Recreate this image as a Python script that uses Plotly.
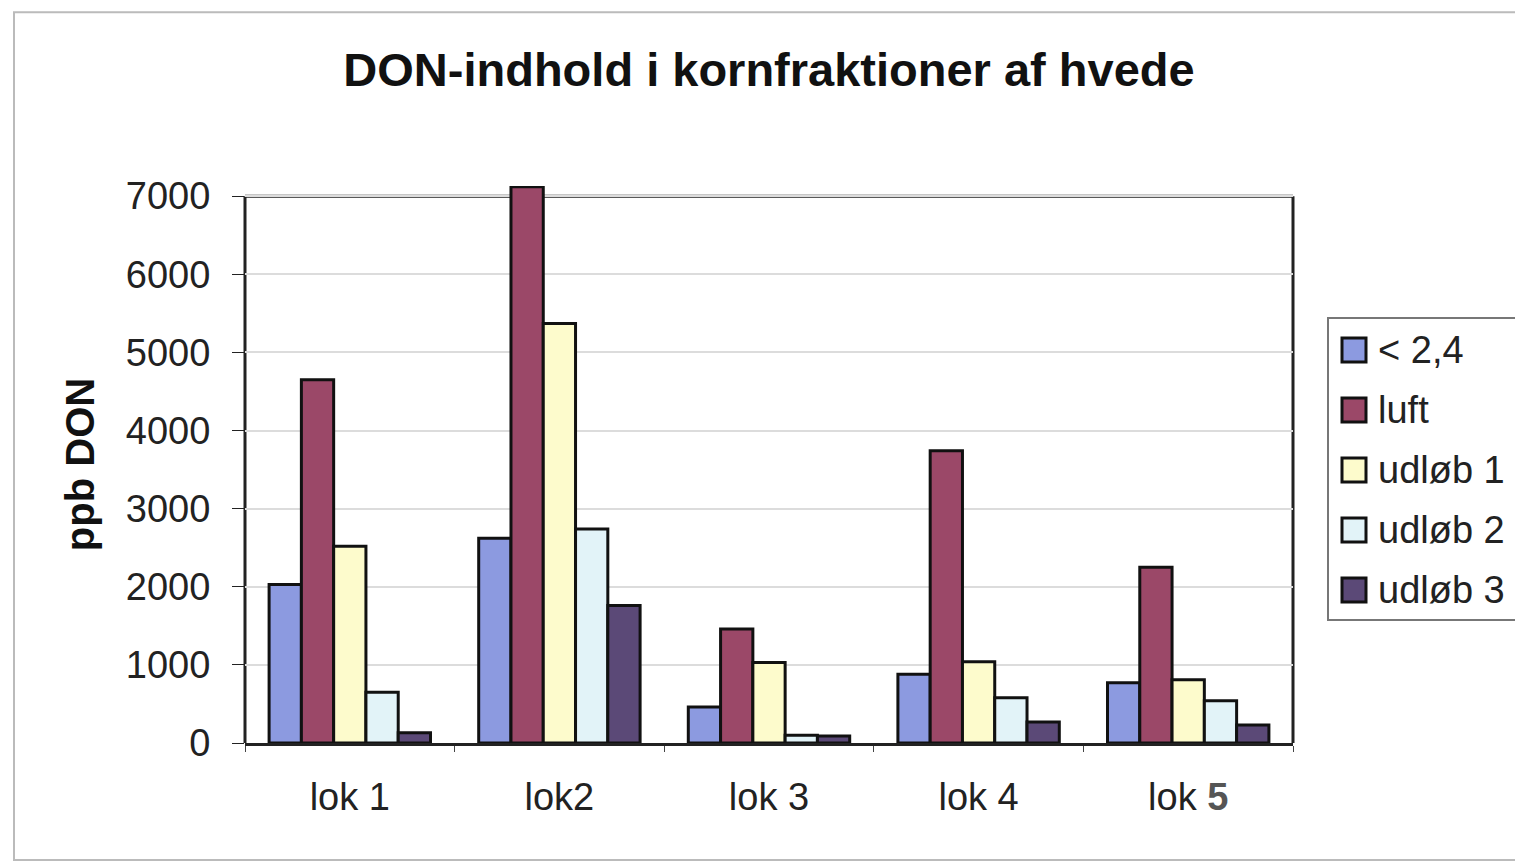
import plotly.graph_objects as go

categories = ["lok 1", "lok2", "lok 3", "lok 4", "lok 5"]
tick_labels = ["lok 1", "lok2", "lok 3", "lok 4", "lok <span style='color:#555'><b>5</b></span>"]

series_names = ["< 2,4", "luft", "udløb 1", "udløb 2", "udløb 3"]
under_24 = [2030, 2620, 460, 880, 770]
luft = [4650, 7120, 1460, 3740, 2250]
udlob_1 = [2520, 5370, 1030, 1040, 810]
udlob_2 = [650, 2740, 100, 580, 540]
udlob_3 = [130, 1760, 90, 270, 230]

colors = ["#8c9ae0", "#9b4868", "#fdfbcc", "#e2f3f8", "#5b4977"]
FONT = "Liberation Sans, Arial, sans-serif"

Y_TOP = 7000
Y_MAX = 7130

# page pixels -> paper coords (plot area 245..1293 wide, bottom at 743, 7000 at 196)
PLOT_L, PLOT_R, PLOT_B = 245, 1293, 743
PLOT_H = (743 - 196) * Y_MAX / Y_TOP


def px(x):
    return (x - PLOT_L) / (PLOT_R - PLOT_L)


def py(y):
    return (PLOT_B - y) / PLOT_H


fig = go.Figure()
for name, vals, col in zip(series_names, [under_24, luft, udlob_1, udlob_2, udlob_3], colors):
    fig.add_trace(go.Bar(
        x=categories, y=vals, name=name,
        marker=dict(color=col, line=dict(color="#111", width=3)),
        showlegend=False,
    ))

fig.update_layout(
    width=1523, height=867,
    paper_bgcolor="white", plot_bgcolor="white",
    font=dict(family=FONT, color="#222", size=38),
    barmode="group", bargap=0.23, bargroupgap=0,
    margin=dict(l=PLOT_L - 8, r=1523 - (PLOT_R - 8), t=round(PLOT_B - PLOT_H) - 8, b=867 - (PLOT_B - 8)),
    title=dict(
        text="<b>DON-indhold i kornfraktioner af hvede</b>",
        x=0.5, xref="paper", y=1 - 62 / 867, yanchor="middle",
        font=dict(size=47, color="#111"),
    ),
    xaxis=dict(
        tickmode="array", tickvals=categories, ticktext=tick_labels,
        ticks="outside", tickson="boundaries", ticklen=6, tickcolor="#444",
        showline=True, linecolor="#222", linewidth=3, mirror=False,
        showgrid=False, tickfont=dict(size=38, color="#222"),
        ticklabelstandoff=18,
    ),
    yaxis=dict(
        range=[0, Y_MAX], tickvals=[0, 1000, 2000, 3000, 4000, 5000, 6000, 7000],
        ticks="outside", ticklen=12, tickcolor="#222",
        showline=False, gridcolor="#dcdcdc", gridwidth=2, zeroline=False,
        tickfont=dict(size=38, color="#222"),
        ticklabelstandoff=14,
        title=dict(text="<b>ppb DON</b>", font=dict(size=40, color="#111"), standoff=18),
    ),
    showlegend=False,
)

# plot frame: left, top, right lines up to 7000
frame = dict(type="line", xref="paper", yref="y", line=dict(color="#222", width=3), layer="between")
fig.add_shape(x0=0, x1=0, y0=0, y1=Y_TOP, **frame)
fig.add_shape(x0=0, x1=1, y0=Y_TOP, y1=Y_TOP, **frame)
fig.add_shape(x0=1, x1=1, y0=0, y1=Y_TOP, **frame)

# outer chart border
fig.add_shape(
    type="rect", xref="paper", yref="paper",
    x0=px(14), x1=px(1540), y0=py(860), y1=py(12),
    line=dict(color="#bbb", width=2),
)

# legend box
fig.add_shape(
    type="rect", xref="paper", yref="paper",
    x0=px(1328), x1=px(1540), y0=py(620), y1=py(318),
    line=dict(color="#777", width=2), fillcolor="white",
)
for i, (name, col) in enumerate(zip(series_names, colors)):
    cy = 350 + 60 * i
    fig.add_shape(
        type="rect", xref="paper", yref="paper",
        x0=px(1342), x1=px(1366), y0=py(cy + 12), y1=py(cy - 12),
        line=dict(color="#111", width=3), fillcolor=col,
    )
    fig.add_annotation(
        x=px(1376), y=py(cy), xref="paper", yref="paper",
        text=name, showarrow=False, xanchor="left", yanchor="middle",
        font=dict(size=38, color="#222"),
    )

fig.write_html("out.html")
